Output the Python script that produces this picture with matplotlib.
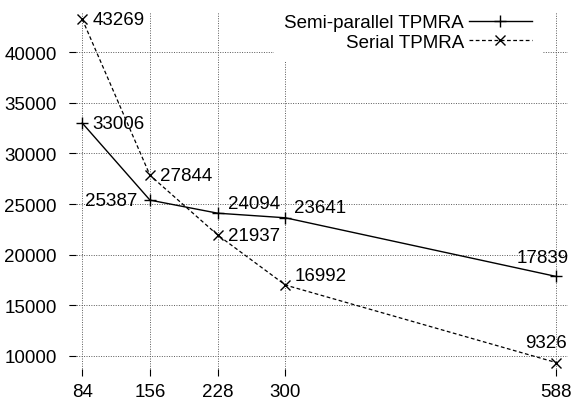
import matplotlib

matplotlib.use("Agg")
import matplotlib.pyplot as plt

# processors / data points
x_vals = [84, 156, 228, 300, 588]
semi_parallel = [33006, 25387, 24094, 23641, 17839]
serial = [43269, 27844, 21937, 16992, 9326]
y_ticks = [10000, 15000, 20000, 25000, 30000, 35000, 40000]

# label offsets (pixels) + alignment, per point
semi_offsets = [(10, 0, "left"), (-13, 0, "right"), (10, 10, "left"),
                (9, 10, "left"), (12, 19, "right")]
serial_offsets = [(10, 0, "left"), (10, 0, "left"), (10, 0, "left"),
                  (9, 10, "left"), (11, 20, "right")]

plt.rcParams["font.family"] = ["Liberation Sans", "DejaVu Sans"]
plt.rcParams["font.size"] = 13.5

fig = plt.figure(figsize=(5.71, 4.06), dpi=100)
ax = fig.add_axes([0.121, 0.0714, 0.873, 0.897])

ax.plot(x_vals, semi_parallel, color="black", linewidth=1.0, marker="+",
        markersize=8, markeredgewidth=1.0, label="Semi-parallel TPMRA",
        zorder=4)
ax.plot(x_vals, serial, color="black", linewidth=0.9, linestyle=(0, (3, 2)),
        marker="x", markersize=7, markeredgewidth=1.0,
        label="Serial TPMRA", zorder=4)

for x, y, (dx, dy, ha) in zip(x_vals, semi_parallel, semi_offsets):
    ax.annotate(str(y), (x, y), xytext=(dx, dy), textcoords="offset pixels",
                ha=ha, va="center", zorder=5)
for x, y, (dx, dy, ha) in zip(x_vals, serial, serial_offsets):
    ax.annotate(str(y), (x, y), xytext=(dx, dy), textcoords="offset pixels",
                ha=ha, va="center", zorder=5)

ax.set_xlim(70, 600)
ax.set_ylim(8000, 44000)
ax.set_xticks(x_vals)
ax.set_yticks(y_ticks)
ax.grid(True, linestyle=(0, (1, 1.5)), color="0.35", linewidth=0.7)
ax.set_axisbelow(True)
for s in ax.spines.values():
    s.set_visible(False)
ax.tick_params(direction="in", length=5, width=0.8, colors="black")
ax.tick_params(axis="x", pad=5)
ax.tick_params(axis="y", pad=9)

leg = ax.legend(loc="upper right", markerfirst=False, frameon=True,
                fancybox=False, handlelength=3.4, handletextpad=0.25,
                labelspacing=0.12, borderpad=0.55, borderaxespad=0.0,
                bbox_to_anchor=(0.95, 1.022))
leg.get_frame().set_facecolor("white")
leg.get_frame().set_edgecolor("none")
leg.get_frame().set_alpha(1.0)

fig.savefig("out.png", dpi=100)
